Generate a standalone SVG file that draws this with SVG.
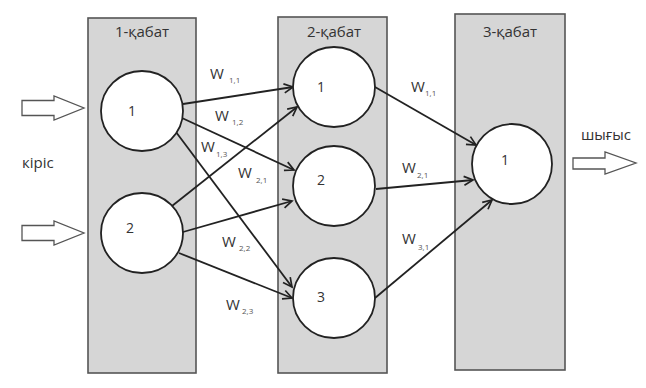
<svg xmlns="http://www.w3.org/2000/svg" width="646" height="388" viewBox="0 0 646 388">
<style>
.layer{fill:#d6d6d6;stroke:#555;stroke-width:1.6}
.node{fill:#fff;stroke:#222;stroke-width:1.8}
.num{font-family:"Open Sans","DejaVu Sans",sans-serif;font-size:14px;fill:#333}
.title{font-family:"Open Sans","DejaVu Sans",sans-serif;font-size:15px;fill:#333;text-anchor:middle}
.lbl{font-family:"Open Sans","DejaVu Sans",sans-serif;font-size:15px;fill:#333}
.sub{font-size:8px;fill:#555}
.conn{stroke:#222;stroke-width:1.8;fill:none;marker-end:url(#ah)}
.io{fill:#fff;stroke:#555;stroke-width:1.3}
</style>
<defs>
<marker id="ah" markerUnits="userSpaceOnUse" markerWidth="14" markerHeight="14" refX="12" refY="7" orient="auto" viewBox="0 0 14 14">
<path d="M3,2.5 L12,7 L3,11.5" fill="none" stroke="#222" stroke-width="1.7"/>
</marker>
</defs>
<rect width="646" height="388" fill="#fff"/>
<g id="layer1">
<rect class="layer" x="88" y="18" width="108" height="355"/>
<text class="title" x="142" y="37">1-қабат</text>
</g>
<g id="layer2">
<rect class="layer" x="278" y="17" width="109" height="356"/>
<text class="title" x="334" y="37">2-қабат</text>
</g>
<g id="layer3">
<rect class="layer" x="455" y="14" width="110" height="356"/>
<text class="title" x="510" y="37">3-қабат</text>
</g>
<g id="input">
<polygon class="io" points="22,100.5 54,100.5 54,96 84,108 54,120 54,115.5 22,115.5"/>
<polygon class="io" points="22,225.5 54,225.5 54,221 84,233 54,245 54,240.5 22,240.5"/>
<text class="lbl" x="22" y="168" font-size="13.5">кіріс</text>
</g>
<g id="output">
<polygon class="io" points="573,158 605,158 605,152 636,163 605,174 605,169 573,169"/>
<text class="lbl" x="581" y="140" font-size="13.5">шығыс</text>
</g>
<g id="connectors">
<line class="conn" x1="183" y1="104" x2="293" y2="87"/>
<line class="conn" x1="182" y1="118" x2="294" y2="170"/>
<line class="conn" x1="176" y1="132" x2="292" y2="287"/>
<line class="conn" x1="172" y1="206" x2="297" y2="107"/>
<line class="conn" x1="183" y1="232" x2="292" y2="201"/>
<line class="conn" x1="179" y1="253" x2="292" y2="298"/>
<line class="conn" x1="375" y1="87" x2="476" y2="145"/>
<line class="conn" x1="376" y1="189" x2="473" y2="180"/>
<line class="conn" x1="375" y1="298" x2="492" y2="200"/>
</g>
<g id="n1-1"><ellipse class="node" cx="142" cy="111" rx="41" ry="40"/><text class="num" x="128" y="116">1</text></g>
<g id="n1-2"><ellipse class="node" cx="142" cy="233" rx="41" ry="40"/><text class="num" x="126" y="233">2</text></g>
<g id="n2-1"><ellipse class="node" cx="334" cy="87" rx="41" ry="40"/><text class="num" x="317" y="92">1</text></g>
<g id="n2-2"><ellipse class="node" cx="334" cy="186" rx="41" ry="40"/><text class="num" x="317" y="185">2</text></g>
<g id="n2-3"><ellipse class="node" cx="334" cy="298" rx="41" ry="40"/><text class="num" x="317" y="302">3</text></g>
<g id="n3-1"><ellipse class="node" cx="512" cy="164" rx="40" ry="40"/><text class="num" x="501" y="165">1</text></g>
<g id="weights">
<text class="lbl" x="210" y="79">W<tspan class="sub" x="229" y="83">1,1</tspan></text>
<text class="lbl" x="215" y="121">W<tspan class="sub" x="232" y="125">1,2</tspan></text>
<text class="lbl" x="201" y="152">W<tspan class="sub" x="216" y="157">1,3</tspan></text>
<text class="lbl" x="238" y="178">W<tspan class="sub" x="256" y="183">2,1</tspan></text>
<text class="lbl" x="222" y="247">W<tspan class="sub" x="239" y="251">2,2</tspan></text>
<text class="lbl" x="226" y="310">W<tspan class="sub" x="242" y="314">2,3</tspan></text>
<text class="lbl" x="411" y="92">W<tspan class="sub" x="425" y="96">1,1</tspan></text>
<text class="lbl" x="402" y="173">W<tspan class="sub" x="417" y="178">2,1</tspan></text>
<text class="lbl" x="402" y="244">W<tspan class="sub" x="418" y="250">3,1</tspan></text>
</g>
</svg>
